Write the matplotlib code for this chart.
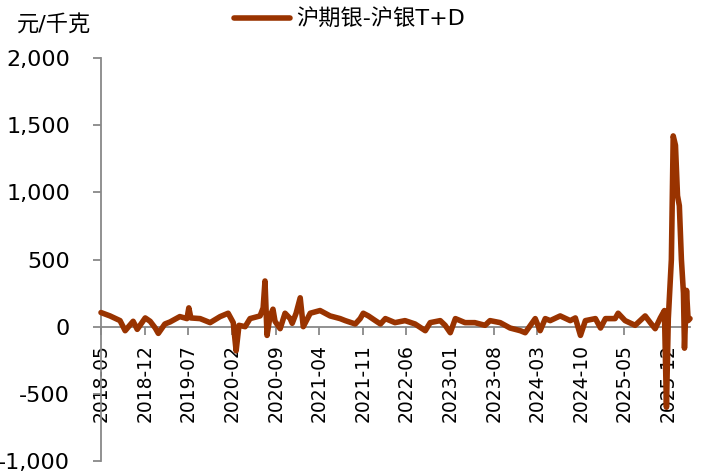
import matplotlib
matplotlib.use("Agg")
import matplotlib.pyplot as plt
import pandas as pd

plt.rcParams['font.family'] = ['DejaVu Sans', 'Noto Sans CJK SC']

# 沪期银-沪银T+D 价差（元/千克）
fechas = ['2018-05-01', '2018-06-14', '2018-08-02', '2018-08-27', '2018-10-05',
          '2018-10-25', '2018-12-03', '2018-12-27', '2019-01-21', '2019-02-05',
          '2019-03-09', '2019-04-03', '2019-05-21', '2019-06-25', '2019-07-04',
          '2019-07-14', '2019-08-28', '2019-10-16', '2019-12-04', '2020-01-12',
          '2020-02-06', '2020-02-20', '2020-03-05', '2020-04-04', '2020-04-28',
          '2020-06-16', '2020-07-01', '2020-07-10', '2020-07-20', '2020-08-04',
          '2020-08-18', '2020-08-28', '2020-09-22', '2020-10-16', '2020-11-10',
          '2020-11-20', '2020-12-09', '2020-12-29', '2021-01-13', '2021-02-16',
          '2021-04-05', '2021-05-24', '2021-07-12', '2021-08-06', '2021-09-24',
          '2021-10-18', '2021-11-02', '2021-11-27', '2021-12-31', '2022-01-25',
          '2022-02-18', '2022-04-06', '2022-05-25', '2022-07-13', '2022-09-01',
          '2022-09-25', '2022-11-13', '2022-12-07', '2023-01-01', '2023-01-26',
          '2023-03-14', '2023-05-01', '2023-06-20', '2023-07-14', '2023-09-02',
          '2023-10-20', '2023-12-09', '2024-01-02', '2024-02-20', '2024-03-15',
          '2024-04-09', '2024-05-03', '2024-06-21', '2024-08-09', '2024-09-03',
          '2024-09-28', '2024-10-22', '2024-12-10', '2025-01-04', '2025-01-28',
          '2025-03-16', '2025-03-31', '2025-05-04', '2025-06-22', '2025-08-10',
          '2025-09-04', '2025-09-28', '2025-10-23', '2025-11-12', '2025-11-22',
          '2025-12-01', '2025-12-16', '2025-12-25', '2026-01-05', '2026-01-15',
          '2026-01-24', '2026-02-03', '2026-02-13', '2026-02-18', '2026-02-28',
          '2026-03-08', '2026-03-17']
spread = [105, 80, 45, -30, 40,
          -20, 65, 40, -10, -50,
          20, 35, 75, 60, 140,
          65, 60, 30, 75, 100,
          30, -180, 10, 0, 60,
          80, 140, 340, -65, 80,
          130, 40, -15, 100, 60,
          25, 100, 215, 0, 100,
          120, 80, 60, 45, 20,
          60, 100, 80, 45, 20,
          60, 30, 45, 20, -30,
          30, 45, 10, -45, 60,
          30, 30, 10, 45, 30,
          -10, -30, -45, 60, -30,
          60, 45, 80, 45, 65,
          -65, 45, 60, -10, 60,
          60, 100, 45, 10, 80,
          30, -15, 65, 120, -600,
          60, 500, 1420, 1350, 975,
          900, 500, 250, -160, 270,
          45, 60]

ticks_x = ['2018-05', '2018-12', '2019-07', '2020-02', '2020-09', '2021-04',
           '2021-11', '2022-06', '2023-01', '2023-08', '2024-03', '2024-10',
           '2025-05', '2025-12']
ticks_y = [-1000, -500, 0, 500, 1000, 1500, 2000]

x = pd.to_datetime(fechas)
color = '#993300'
gris = '#888888'

fig = plt.figure(figsize=(7.12, 4.73), dpi=100)
ax = fig.add_axes([101 / 712, 1 - 461 / 473, (690 - 101) / 712, (461 - 58) / 473])

# la linea va encima de las etiquetas del eje, como en el original
linea, = ax.plot(x, spread, color=color, lw=4, solid_joinstyle='round',
                 solid_capstyle='round', clip_on=False, zorder=3)

ax.set_ylim(-1000, 2000)
ax.set_xlim(pd.Timestamp('2018-05-01'), pd.Timestamp('2026-03-17'))
ax.set_yticks(ticks_y)
ax.set_yticklabels([f'{v:,}' for v in ticks_y])
ax.set_xticks(pd.to_datetime([t + '-01' for t in ticks_x]))
ax.set_xticklabels(ticks_x)

for s in ['top', 'right']:
    ax.spines[s].set_visible(False)
ax.spines['bottom'].set_position(('data', 0))
for s in ['left', 'bottom']:
    ax.spines[s].set_color(gris)
    ax.spines[s].set_linewidth(1.3)
ax.tick_params(axis='y', direction='out', length=5.8, width=1.3, color=gris,
               pad=16.5, labelsize=16, labelcolor='black')
ax.tick_params(axis='x', direction='out', length=5.8, width=1.3, color=gris,
               pad=7, labelsize=13.5, labelcolor='black', labelrotation=90)
for t in ax.get_xticklabels():
    t.set_va('top')
    t.set_ha('center')

fig.text(17 / 712, 1 - 25 / 473, '元/千克', fontsize=16, va='center', ha='left')
fig.legend([linea], ['沪期银-沪银T+D'], loc='center left',
           bbox_to_anchor=(234 / 712, 1 - 19 / 473), frameon=False,
           borderpad=0, borderaxespad=0, handlelength=2.5, handletextpad=0.3,
           fontsize=16)

fig.savefig('out.png', dpi=100)
